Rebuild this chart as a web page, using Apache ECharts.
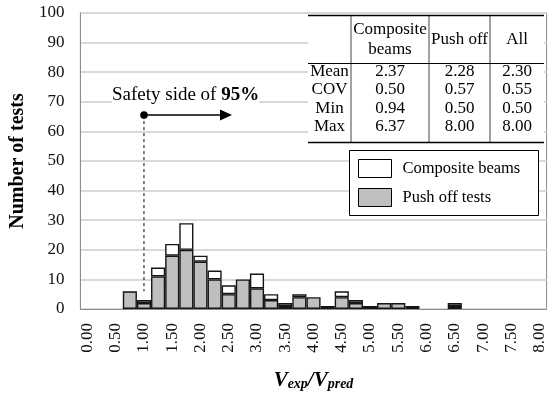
<!DOCTYPE html>
<html>
<head>
<meta charset="utf-8">
<script src="https://cdn.jsdelivr.net/npm/echarts@6/dist/echarts.min.js"></script>
<style>
  html, body { margin: 0; padding: 0; background: #fff; }
  #chart { width: 548px; height: 396px; }
</style>
</head>
<body>
<div id="chart"></div>
<script>
// Histogram bins of Vexp/Vpred (upper bound of each 0.25-wide bin)
const binLabels = [
  '0.00', '0.25', '0.50', '0.75', '1.00', '1.25', '1.50', '1.75', '2.00', '2.25', '2.50',
  '2.75', '3.00', '3.25', '3.50', '3.75', '4.00', '4.25', '4.50', '4.75', '5.00', '5.25',
  '5.50', '5.75', '6.00', '6.25', '6.50', '6.75', '7.00', '7.25', '7.50', '7.75', '8.00'
];
// Number of push off tests in each bin
const pushOffCounts = [
  0, 0, 0, 6, 2, 11, 18, 20, 16, 10, 5,
  10, 7, 3, 1, 4, 4, 1, 4, 2, 1, 2,
  2, 1, 0, 0, 1, 0, 0, 0, 0, 0, 0
];
// Number of composite beam tests in each bin
const compositeCounts = [
  0, 0, 0, 0, 1, 3, 4, 9, 2, 3, 3,
  0, 5, 2, 1, 1, 0, 0, 2, 1, 0, 0,
  0, 0, 0, 0, 1, 0, 0, 0, 0, 0, 0
];
const yTicks = { min: 0, max: 100, step: 10 };

// Summary statistics table
const statColumns = ['Composite\nbeams', 'Push off', 'All'];
const statRows = ['Mean', 'COV', 'Min', 'Max'];
const statValues = [
  ['2.37', '2.28', '2.30'],
  ['0.50', '0.57', '0.55'],
  ['0.94', '0.50', '0.50'],
  ['6.37', '8.00', '8.00']
];
const seriesNames = ['Composite beams', 'Push off tests'];
// Safety marker: bin where the safe side begins, and its height on the chart
const safetyBin = '1.00';
const safetyLevel = 65.5;
const safetyLineEnd = 6;
const safetyPercent = '95%';

const FONT = '"Liberation Serif", "Times New Roman", serif';
const GRAY = '#bfbfbf';
const EDGE = '#151515';

const chart = echarts.init(document.getElementById('chart'), null, { renderer: 'canvas' });

const nz = v => (v === 0 ? null : v);

chart.setOption({
  animation: false,
  backgroundColor: '#fff',
  grid: {
    left: 78, right: 1, top: 13, bottom: 84,
    show: true, borderColor: '#8c8c8c', borderWidth: 1, backgroundColor: 'transparent'
  },
  xAxis: {
    type: 'category',
    data: binLabels,
    boundaryGap: true,
    axisLine: { lineStyle: { color: '#8c8c8c', width: 1 } },
    axisTick: { show: false },
    axisLabel: {
      interval: 1, rotate: 90, margin: 14,
      fontFamily: FONT, fontSize: 17, color: '#111'
    },
    name: '{v|V}{s|exp}{v|/V}{s|pred}',
    nameLocation: 'middle',
    nameGap: 58,
    nameTextStyle: {
      fontFamily: FONT, fontWeight: 'bold', fontStyle: 'italic', color: '#000',
      rich: {
        v: { fontFamily: FONT, fontWeight: 'bold', fontStyle: 'italic', fontSize: 21, lineHeight: 24, verticalAlign: 'bottom', color: '#000' },
        s: { fontFamily: FONT, fontWeight: 'bold', fontStyle: 'italic', fontSize: 14, lineHeight: 8, verticalAlign: 'bottom', color: '#000' }
      }
    }
  },
  yAxis: {
    type: 'value',
    min: yTicks.min, max: yTicks.max, interval: yTicks.step,
    axisLine: { show: true, lineStyle: { color: '#8c8c8c', width: 1 } },
    axisTick: { show: false },
    splitLine: { lineStyle: { color: '#d9d9d9', width: 2 } },
    axisLabel: { fontFamily: FONT, fontSize: 17, color: '#111', margin: 16 },
    name: 'Number of tests',
    nameLocation: 'middle',
    nameRotate: 90,
    nameGap: 52,
    nameTextStyle: { fontFamily: FONT, fontWeight: 'bold', fontSize: 20, color: '#000' }
  },
  series: [
    {
      name: seriesNames[1],
      type: 'bar',
      stack: 'tests',
      barCategoryGap: '0%',
      data: pushOffCounts.map(nz),
      itemStyle: { color: GRAY, borderColor: EDGE, borderWidth: 1.4 },
      z: 3
    },
    {
      name: seriesNames[0],
      type: 'bar',
      stack: 'tests',
      barCategoryGap: '0%',
      data: compositeCounts.map(nz),
      itemStyle: { color: '#fff', borderColor: EDGE, borderWidth: 1.4 },
      z: 3
    }
  ]
});

// ---- Overlays: safety arrow, statistics table, legend ----
const g = [];
const [sx, sy] = chart.convertToPixel({ xAxisIndex: 0, yAxisIndex: 0 }, [safetyBin, safetyLevel]);
const syEnd = chart.convertToPixel({ yAxisIndex: 0 }, safetyLineEnd);

g.push({
  type: 'text', left: sx - 32, top: sy - 30, z: 10,
  style: {
    text: '{n|Safety side of }{b|' + safetyPercent + '}',
    backgroundColor: '#fff',
    rich: {
      n: { fontFamily: FONT, fontSize: 19, fill: '#000' },
      b: { fontFamily: FONT, fontSize: 19, fontWeight: 'bold', fill: '#000' }
    }
  }
});
g.push({
  type: 'line', z: 10,
  shape: { x1: sx, y1: sy, x2: sx, y2: syEnd },
  style: { stroke: '#000', lineWidth: 1, lineDash: [3, 3] }
});
g.push({
  type: 'line', z: 10,
  shape: { x1: sx, y1: sy, x2: sx + 76, y2: sy },
  style: { stroke: '#000', lineWidth: 1.5 }
});
g.push({
  type: 'polygon', z: 10,
  shape: { points: [[sx + 76, sy - 5.5], [sx + 88, sy], [sx + 76, sy + 5.5]] },
  style: { fill: '#000' }
});
g.push({
  type: 'circle', z: 11,
  shape: { cx: sx, cy: sy, r: 3.8 },
  style: { fill: '#000' }
});

// Statistics table
const colX = [308, 351, 429, 490, 544];
const tTop = 15.5, tHead = 63.5, tBottom = 142.5;
const rowY = [71.5, 90, 108.5, 127];
g.push({
  type: 'rect', z: 8,
  shape: { x: colX[0], y: tTop, width: colX[4] - colX[0], height: tBottom - tTop },
  style: { fill: '#fff' }
});
[1, 2, 3].forEach(i => g.push({
  type: 'line', z: 9,
  shape: { x1: colX[i], y1: tTop, x2: colX[i], y2: tBottom },
  style: { stroke: '#444', lineWidth: 1 }
}));
g.push({ type: 'line', z: 9, shape: { x1: colX[0], y1: tTop, x2: colX[4], y2: tTop }, style: { stroke: '#000', lineWidth: 1.5 } });
g.push({ type: 'line', z: 9, shape: { x1: colX[0], y1: tHead, x2: colX[4], y2: tHead }, style: { stroke: '#000', lineWidth: 1 } });
g.push({ type: 'line', z: 9, shape: { x1: colX[0], y1: tBottom, x2: colX[4], y2: tBottom }, style: { stroke: '#000', lineWidth: 1.5 } });

const tStyle = { fontFamily: FONT, fontSize: 17, fill: '#000', align: 'center', verticalAlign: 'middle' };
statColumns.forEach((c, j) => {
  g.push({
    type: 'text', z: 10,
    x: (colX[j + 1] + colX[j + 2]) / 2, y: (tTop + tHead) / 2 + 0.5,
    style: Object.assign({ text: c, lineHeight: 20 }, tStyle)
  });
});
statRows.forEach((r, i) => {
  g.push({
    type: 'text', z: 10,
    x: (colX[0] + colX[1]) / 2, y: rowY[i],
    style: Object.assign({ text: r }, tStyle)
  });
  statValues[i].forEach((v, j) => {
    g.push({
      type: 'text', z: 10,
      x: (colX[j + 1] + colX[j + 2]) / 2, y: rowY[i],
      style: Object.assign({ text: v }, tStyle)
    });
  });
});

// Legend box
const lgX = 349.5, lgY = 150.5, lgW = 189, lgH = 65;
g.push({
  type: 'rect', z: 8,
  shape: { x: lgX, y: lgY, width: lgW, height: lgH },
  style: { fill: '#fff', stroke: '#000', lineWidth: 1 }
});
const legendFill = ['#fff', GRAY];
seriesNames.forEach((name, i) => {
  const cy = lgY + 18 + i * 29;
  g.push({
    type: 'rect', z: 9,
    shape: { x: lgX + 9, y: cy - 9, width: 33, height: 18 },
    style: { fill: legendFill[i], stroke: '#000', lineWidth: 1 }
  });
  g.push({
    type: 'text', z: 9,
    x: lgX + 53, y: cy,
    style: { text: name, fontFamily: FONT, fontSize: 16.5, fill: '#000', verticalAlign: 'middle' }
  });
});

chart.setOption({ graphic: g });
</script>
</body>
</html>
